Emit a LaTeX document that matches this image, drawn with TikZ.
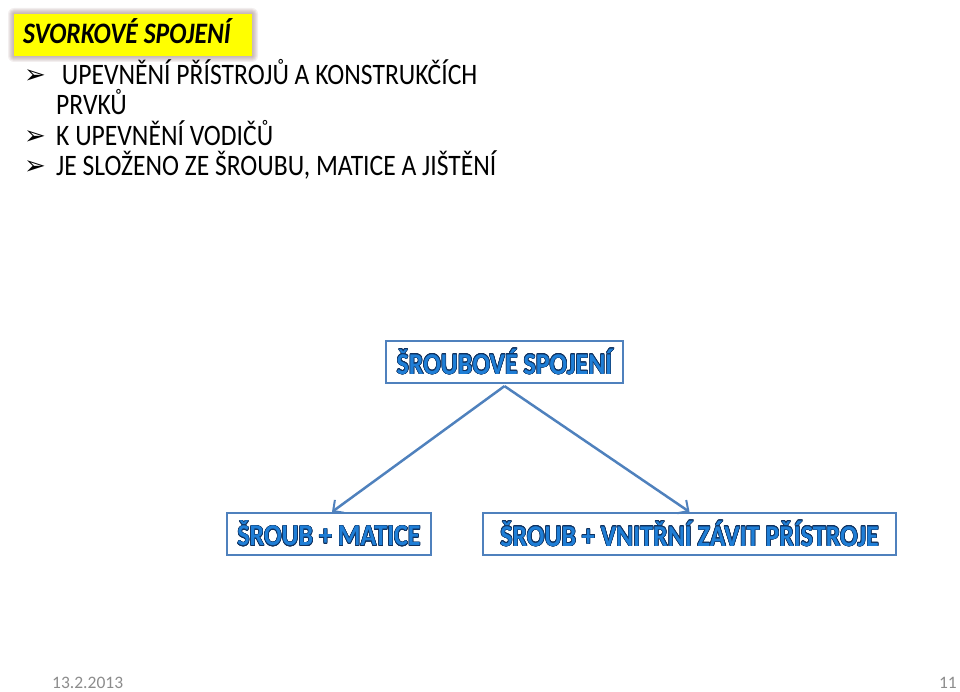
\documentclass[tikz,border=0pt]{standalone}
\usepackage{fontspec}
\setmainfont{Carlito}
\newfontfamily\symfont{DejaVu Sans}
\usepackage{contour}
\contourlength{0.55pt}
\usetikzlibrary{arrows.meta, positioning}
\definecolor{cyellow}{HTML}{FFFF00}
\definecolor{cglow}{HTML}{9C7F7F}
\definecolor{cframe}{HTML}{4F81BD}
\definecolor{ctext}{HTML}{1F7ED6}
\definecolor{cnavy}{HTML}{10315E}
\definecolor{cgrey}{HTML}{8C8C8C}
\newcommand{\tall}[1]{\scalebox{1}[1.16]{#1}}
\newcommand{\boxtext}[1]{\tall{\contour{cnavy}{\textcolor{ctext}{#1}}}}
\tikzset{
  every picture/.style={x=1pt, y=-1pt},
  bullet/.style={anchor=base west, inner sep=0pt, font=\fontsize{25.6}{30}\selectfont},
  marker/.style={anchor=base west, inner sep=0pt, font=\symfont\fontsize{26}{28}\selectfont},
  frame/.style={draw=cframe, line width=2.2pt, fill=white, inner sep=0pt, font=\bfseries\fontsize{26}{30}\selectfont},
  arrow/.style={-{Straight Barb[length=8pt, width=16pt, line width=2pt]}, draw=cframe, line width=2.5pt},
  footer/.style={anchor=base west, inner sep=0pt, text=cgrey, font=\fontsize{17.5}{20}\selectfont},
}
\begin{document}
\begin{tikzpicture}
  \useasboundingbox (0,0) rectangle (960,692);
  % title with glow
  \foreach \g in {6,5,...,1}
    \fill[cglow, opacity=0.12, rounded corners=\g pt] (14-\g,14-\g) rectangle (252+\g,56+\g);
  \node[fill=cyellow, minimum width=238pt, minimum height=42pt, inner sep=0pt] (title) at (133,35) {};
  \node[anchor=base west, inner sep=0pt, font=\bfseries\itshape\fontsize{25.6}{30}\selectfont] (titletext) at (23,44) {\tall{SVORKOVÉ SPOJENÍ}};
  % bullet list
  \foreach \y in {85,146,176} \node[marker] at (24,\y-1) {➢};
  \node[bullet] (b1) at (56,85) {\tall{\ UPEVNĚNÍ PŘÍSTROJŮ A KONSTRUKČÍCH}};
  \node[bullet] (b1b) at (56,115) {\tall{PRVKŮ}};
  \node[bullet] (b2) at (56,146) {\tall{K UPEVNĚNÍ VODIČŮ}};
  \node[bullet] (b3) at (56,176) {\tall{JE SLOŽENO ZE ŠROUBU, MATICE A JIŠTĚNÍ}};
  % tree
  \node[frame, minimum width=237pt, minimum height=42pt] (sroubove) at (504.5,362) {\boxtext{ŠROUBOVÉ SPOJENÍ}};
  \node[frame, minimum width=204pt, minimum height=42pt] (matice) at (329,534) {\boxtext{ŠROUB + MATICE}};
  \node[frame, minimum width=413pt, minimum height=42pt] (zavit) at (689.5,534) {\boxtext{ŠROUB + VNITŘNÍ ZÁVIT PŘÍSTROJE}};
  \draw[arrow] ([yshift=-2pt]sroubove.south) -- ([xshift=3pt]matice.north);
  \draw[arrow] ([yshift=-2pt]sroubove.south) -- (zavit.north);
  % footer
  \node[footer] (date) at (52,688) {13.2.2013};
  \node[footer, anchor=base east] (page) at (957,688) {11};
\end{tikzpicture}
\end{document}
